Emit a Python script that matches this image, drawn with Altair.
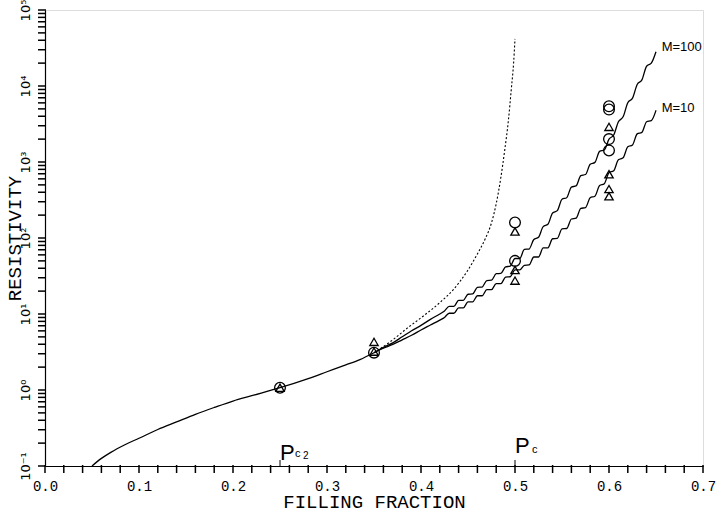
import altair as alt
import pandas as pd

# ---- data (resistivity given as log10 values) ----
base_points = [(0.05, -1.0), (0.06, -0.90), (0.07, -0.82), (0.085, -0.72), (0.10, -0.635),
               (0.12, -0.52), (0.14, -0.42), (0.16, -0.32), (0.18, -0.23), (0.20, -0.145),
               (0.22, -0.075), (0.25, 0.03), (0.28, 0.15), (0.30, 0.24), (0.32, 0.33),
               (0.335, 0.40), (0.35, 0.49)]

dotted_points = [(0.35, 0.49), (0.37, 0.66), (0.385, 0.81), (0.40, 0.95), (0.42, 1.15),
                 (0.435, 1.33), (0.449, 1.56), (0.46, 1.79), (0.468, 1.98), (0.475, 2.2),
                 (0.48, 2.45), (0.485, 2.8), (0.489, 3.15), (0.493, 3.55), (0.496, 3.95),
                 (0.4985, 4.3), (0.5, 4.62)]

m100_points = [(0.35, 0.49), (0.36, 0.56), (0.37, 0.62), (0.38, 0.70), (0.39, 0.78),
               (0.40, 0.85), (0.41, 0.93), (0.42, 1.00), (0.425, 1.04),
               (0.43, 1.10), (0.435, 1.10), (0.44, 1.18), (0.445, 1.18), (0.45, 1.26),
               (0.455, 1.265), (0.46, 1.35), (0.465, 1.355), (0.47, 1.44), (0.475, 1.445),
               (0.48, 1.53), (0.485, 1.535), (0.49, 1.62), (0.495, 1.63),
               (0.50, 1.73), (0.505, 1.73), (0.51, 1.85), (0.515, 1.855), (0.52, 1.98),
               (0.525, 2.01), (0.53, 2.15), (0.535, 2.18), (0.54, 2.33), (0.545, 2.36),
               (0.55, 2.51), (0.555, 2.53), (0.56, 2.67), (0.565, 2.685), (0.57, 2.82),
               (0.575, 2.835), (0.58, 2.97), (0.585, 2.995), (0.59, 3.14), (0.595, 3.16),
               (0.60, 3.30), (0.605, 3.355), (0.61, 3.53), (0.615, 3.595), (0.62, 3.78),
               (0.625, 3.84), (0.63, 4.02), (0.635, 4.08), (0.64, 4.26), (0.645, 4.30),
               (0.65, 4.45)]

m10_points = [(0.35, 0.49), (0.36, 0.55), (0.37, 0.60), (0.38, 0.66), (0.39, 0.72),
              (0.40, 0.79), (0.41, 0.855), (0.42, 0.92), (0.425, 0.955),
              (0.43, 1.01), (0.435, 1.01), (0.44, 1.08), (0.445, 1.08), (0.45, 1.16),
              (0.455, 1.16), (0.46, 1.24), (0.465, 1.24), (0.47, 1.32), (0.475, 1.32),
              (0.48, 1.40), (0.485, 1.40), (0.49, 1.485), (0.495, 1.49),
              (0.50, 1.58), (0.505, 1.58), (0.51, 1.64), (0.515, 1.645), (0.52, 1.75),
              (0.525, 1.75), (0.53, 1.87), (0.535, 1.87), (0.54, 1.99), (0.545, 1.995),
              (0.55, 2.12), (0.555, 2.125), (0.56, 2.25), (0.565, 2.26), (0.57, 2.39),
              (0.575, 2.40), (0.58, 2.53), (0.585, 2.55), (0.59, 2.69), (0.595, 2.715),
              (0.60, 2.86), (0.605, 2.885), (0.61, 3.03), (0.615, 3.055), (0.62, 3.20),
              (0.625, 3.225), (0.63, 3.37), (0.635, 3.39), (0.64, 3.53), (0.645, 3.545),
              (0.65, 3.68)]

circle_x = [0.25, 0.35, 0.50, 0.50, 0.60, 0.60, 0.60, 0.60]
circle_y = [1.07, 3.1, 160, 50, 5400, 4900, 2000, 1420]
triangle_x = [0.25, 0.35, 0.35, 0.50, 0.50, 0.50, 0.60, 0.60, 0.60, 0.60]
triangle_y = [1.07, 4.3, 3.2, 122, 38, 27.5, 2900, 690, 440, 355]

curve_label_text = ["M=100", "M=10"]
curve_label_x = [0.656, 0.656]
curve_label_y = [32600, 5130]

pc_x = [0.25, 0.50]
pc_tick_top = 0.12
pc_p_y = [0.12, 0.148]
pc_c_x = [0.266, 0.518]
pc_c_y = [0.131, 0.15]
pc_two_x = [0.2745]
pc_two_y = [0.124]

x_tick_values = [round(i * 0.02, 2) for i in range(36)]
y_major = [0.1, 1, 10, 100, 1000, 10000, 100000]
y_major_labels = ["10⁻¹", "10⁰", "10¹", "10²", "10³", "10⁴", "10⁵"]
y_tick_values = [round(d * 10 ** k, 6) for k in range(-1, 5) for d in range(1, 10)] + [100000]

rows = []
for name, pts in [("base", base_points), ("M100", m100_points), ("M10", m10_points)]:
    for px, ly in pts:
        rows.append(dict(kind="solid", series=name, x=px, y=10 ** ly))
for px, ly in dotted_points:
    rows.append(dict(kind="dotted", series="dotted", x=px, y=10 ** ly))
for px, py in zip(circle_x, circle_y):
    rows.append(dict(kind="circle", series="circle", x=px, y=py))
for px, py in zip(triangle_x, triangle_y):
    rows.append(dict(kind="triangle", series="triangle", x=px, y=py))
for t, px, py in zip(curve_label_text, curve_label_x, curve_label_y):
    rows.append(dict(kind="mlabel", series="label", x=px, y=py, text=t))
for px, py in zip(pc_x, pc_p_y):
    rows.append(dict(kind="P", series="label", x=px, y=py, text="P"))
for px, py in zip(pc_c_x, pc_c_y):
    rows.append(dict(kind="c", series="label", x=px, y=py, text="c"))
for px, py in zip(pc_two_x, pc_two_y):
    rows.append(dict(kind="two", series="label", x=px, y=py, text="2"))
for px in pc_x:
    rows.append(dict(kind="pctick", series="tick", x=px, y=0.1, y2=pc_tick_top))
for v in x_tick_values:
    rows.append(dict(kind="xtick", series="axis", x=v, y=0.1))
for v in y_tick_values:
    rows.append(dict(kind="ytick", series="axis", x=0.0, y=v))
df = pd.DataFrame(rows)

y_expr = ""
for m, lab in zip(y_major, y_major_labels):
    y_expr += f"abs(datum.value / {m} - 1) < 1e-6 ? '{lab}' : "
y_expr += "''"

x_axis = alt.Axis(
    values=x_tick_values,
    labelExpr="abs(datum.value * 10 - round(datum.value * 10)) < 1e-6 ? format(datum.value, '.1f') : ''",
    title="FILLING FRACTION", grid=False, ticks=False,
    labelFont="Liberation Mono", labelFontSize=14, labelPadding=13,
    labelFlush=False, labelOverlap=False,
    titleFont="Liberation Mono", titleFontSize=19, titleFontWeight="normal",
    titleX=329, titleY=35, titleBaseline="middle", titleAlign="center",
)
y_axis = alt.Axis(
    values=y_tick_values, labelExpr=y_expr,
    title="RESISTIVITY", grid=False, ticks=False,
    labelFont="DejaVu Sans", labelFontSize=13,
    labelAngle=270, labelAlign="center", labelBaseline="bottom",
    labelPadding=13, labelFlush=False, labelOverlap=False,
    titleFont="Liberation Mono", titleFontSize=19, titleFontWeight="normal",
    titleAngle=270, titleX=-31, titleY=228, titleBaseline="middle", titleAlign="center",
)

x_enc = alt.X("x:Q", scale=alt.Scale(domain=[0, 0.7], nice=False, zero=False), axis=x_axis)
y_enc = alt.Y("y:Q", scale=alt.Scale(type="log", domain=[0.1, 100000], nice=False), axis=y_axis)

base = alt.Chart(df).encode(x=x_enc, y=y_enc)

solid = base.transform_filter("datum.kind == 'solid'").mark_line(
    color="black", strokeWidth=1.3, interpolate="monotone").encode(detail="series:N")
dotted = base.transform_filter("datum.kind == 'dotted'").mark_line(
    color="black", strokeWidth=1.1, strokeDash=[2, 2], interpolate="monotone")
circles = base.transform_filter("datum.kind == 'circle'").mark_point(
    shape="circle", size=115, filled=False, color="black", strokeWidth=1.3, opacity=1)
triangles = base.transform_filter("datum.kind == 'triangle'").mark_point(
    shape="triangle-up", size=70, filled=False, color="black", strokeWidth=1.3, opacity=1)
mlabels = base.transform_filter("datum.kind == 'mlabel'").mark_text(
    align="left", baseline="middle", font="Liberation Sans", fontSize=13, color="black"
).encode(text="text:N")
p_text = base.transform_filter("datum.kind == 'P'").mark_text(
    align="left", baseline="alphabetic", font="Liberation Sans Narrow, Liberation Sans",
    fontSize=22, color="black").encode(text="text:N")
c_text = base.transform_filter("datum.kind == 'c'").mark_text(
    align="left", baseline="alphabetic", font="Liberation Sans", fontSize=11, color="black"
).encode(text="text:N")
two_text = base.transform_filter("datum.kind == 'two'").mark_text(
    align="left", baseline="alphabetic", font="Liberation Sans", fontSize=10, color="black"
).encode(text="text:N")
pc_ticks = base.transform_filter("datum.kind == 'pctick'").mark_rule(
    color="black", strokeWidth=1).encode(y2="y2:Q")
# axis tick marks, drawn outward from the axis lines
x_ticks = base.transform_filter("datum.kind == 'xtick'").mark_rule(
    color="black", strokeWidth=1.5, clip=False).encode(y=alt.value(455), y2=alt.value(463))
y_ticks = base.transform_filter("datum.kind == 'ytick'").mark_rule(
    color="black", strokeWidth=1.5, clip=False).encode(x=alt.value(1), x2=alt.value(-7))

chart = alt.layer(
    x_ticks, y_ticks, solid, dotted, circles, triangles, mlabels, p_text, c_text,
    two_text, pc_ticks
).properties(
    width=658, height=456,
    autosize=alt.AutoSizeParams(type="none"),
    padding={"left": 45, "top": 10, "right": 15, "bottom": 47},
).configure_view(stroke=None).configure(background="white").configure_axis(
    domainColor="black", domainWidth=1.2, labelColor="black", titleColor="black",
)

chart.save("out.html", embed_options={"renderer": "svg", "actions": False})
